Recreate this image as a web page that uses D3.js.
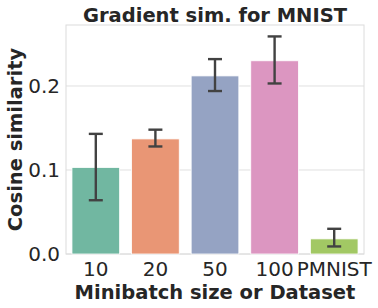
<!DOCTYPE html>
<html>
<head>
<meta charset="utf-8">
<script src="https://cdn.jsdelivr.net/npm/d3@7"></script>
<style>
  body { margin: 0; background: #fff; }
  text { font-family: "DejaVu Sans", sans-serif; fill: #262626; }
</style>
</head>
<body>
<div id="chart"></div>
<script>
// Data
const categories = ["10", "20", "50", "100", "PMNIST"];
const means = [0.103, 0.137, 0.212, 0.230, 0.018];
const errLow = [0.064, 0.128, 0.194, 0.203, 0.009];
const errHigh = [0.143, 0.148, 0.232, 0.259, 0.030];
const colors = ["#71b7a1", "#e99675", "#95a3c3", "#dc96c1", "#a2c864"];
const yTicks = [0.0, 0.1, 0.2];

const width = 378, height = 308;
const margin = {top: 25, right: 14, bottom: 54, left: 66};

const svg = d3.select("#chart").append("svg")
    .attr("width", width)
    .attr("height", height);

const x = d3.scaleBand()
    .domain(categories)
    .range([margin.left, width - margin.right])
    .paddingInner(0.2)
    .paddingOuter(0.1);

const y = d3.scaleLinear()
    .domain([0, 0.2726])
    .range([height - margin.bottom, margin.top]);

// grid lines
svg.append("g")
    .selectAll("line")
    .data(yTicks)
    .enter().append("line")
    .attr("x1", margin.left)
    .attr("x2", width - margin.right)
    .attr("y1", d => y(d))
    .attr("y2", d => y(d))
    .attr("stroke", "#e0e0e0")
    .attr("stroke-width", 1);

// frame
svg.append("rect")
    .attr("x", margin.left)
    .attr("y", margin.top)
    .attr("width", width - margin.left - margin.right)
    .attr("height", height - margin.top - margin.bottom)
    .attr("fill", "none")
    .attr("stroke", "#dcdcdc")
    .attr("stroke-width", 1);

// bars
svg.append("g")
    .selectAll("rect")
    .data(categories)
    .enter().append("rect")
    .attr("x", d => x(d))
    .attr("width", x.bandwidth())
    .attr("y", (d, i) => y(means[i]))
    .attr("height", (d, i) => y(0) - y(means[i]))
    .attr("fill", (d, i) => colors[i])
    .attr("stroke", "#fff")
    .attr("stroke-width", 0.8);

// error bars
const eb = svg.append("g")
    .attr("stroke", "#424242")
    .attr("stroke-width", 2.4);
categories.forEach((c, i) => {
    const cx = x(c) + x.bandwidth() / 2;
    eb.append("line")
        .attr("x1", cx).attr("x2", cx)
        .attr("y1", y(errLow[i])).attr("y2", y(errHigh[i]));
    [errLow[i], errHigh[i]].forEach(v => {
        eb.append("line")
            .attr("x1", cx - 7).attr("x2", cx + 7)
            .attr("y1", y(v)).attr("y2", y(v));
    });
});

// y tick labels
svg.append("g")
    .selectAll("text")
    .data(yTicks)
    .enter().append("text")
    .attr("x", margin.left - 6)
    .attr("y", d => y(d))
    .attr("dy", "0.36em")
    .attr("text-anchor", "end")
    .style("font-size", "20px")
    .text(d => d3.format(".1f")(d));

// x tick labels
svg.append("g")
    .selectAll("text")
    .data(categories)
    .enter().append("text")
    .attr("x", d => x(d) + x.bandwidth() / 2)
    .attr("y", 276)
    .attr("text-anchor", "middle")
    .style("font-size", "20px")
    .text(d => d);

// title
svg.append("text")
    .attr("x", (margin.left + width - margin.right) / 2)
    .attr("y", 22)
    .attr("text-anchor", "middle")
    .style("font-size", "19.5px")
    .style("font-weight", "bold")
    .text("Gradient sim. for MNIST");

// x axis label
svg.append("text")
    .attr("x", (margin.left + width - margin.right) / 2)
    .attr("y", 299)
    .attr("text-anchor", "middle")
    .style("font-size", "19.5px")
    .style("font-weight", "bold")
    .text("Minibatch size or Dataset");

// y axis label
svg.append("text")
    .attr("transform", `translate(22, ${(margin.top + height - margin.bottom) / 2}) rotate(-90)`)
    .attr("text-anchor", "middle")
    .style("font-size", "19.5px")
    .style("font-weight", "bold")
    .text("Cosine similarity");
</script>
</body>
</html>
